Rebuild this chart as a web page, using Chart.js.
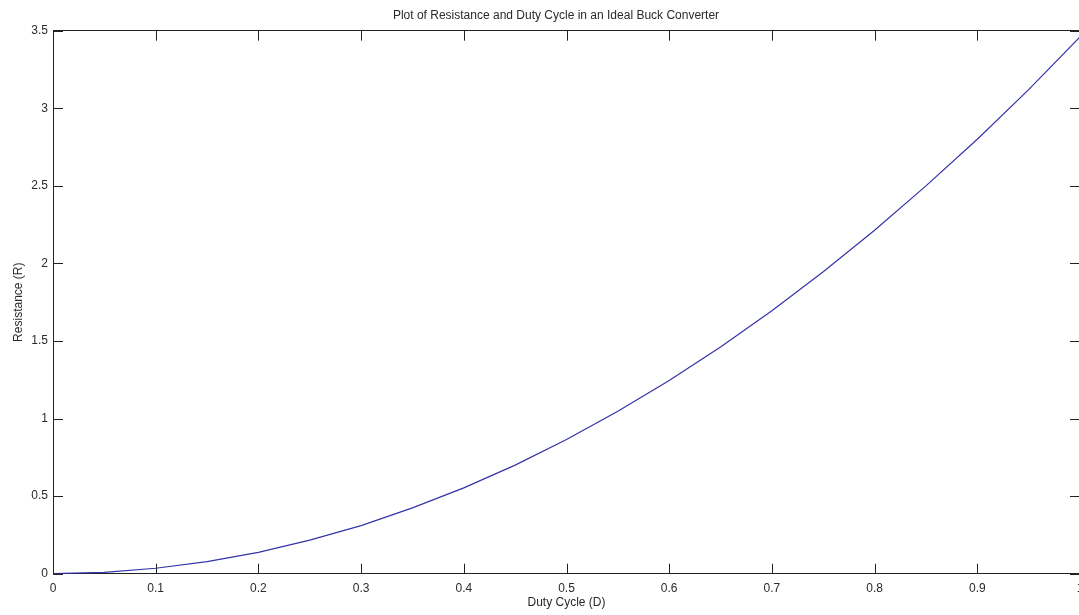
<!DOCTYPE html>
<html>
<head>
<meta charset="utf-8">
<script src="https://cdn.jsdelivr.net/npm/chart.js@4"></script>
<style>
  html, body { margin: 0; padding: 0; background: #fff; overflow: hidden; width: 1079px; height: 615px; }
  canvas { display: block; }
</style>
</head>
<body>
<canvas id="c" width="1112" height="615"></canvas>
<script>
// Data
const dutyCycle = [0, 0.05, 0.1, 0.15, 0.2, 0.25, 0.3, 0.35, 0.4, 0.45, 0.5,
                   0.55, 0.6, 0.65, 0.7, 0.75, 0.8, 0.85, 0.9, 0.95, 1.0];
const resistance = [0, 0.008, 0.035, 0.078, 0.138, 0.216, 0.31, 0.424, 0.553, 0.70, 0.865,
                    1.047, 1.245, 1.462, 1.695, 1.946, 2.214, 2.50, 2.80, 3.12, 3.46];
const xTicks = [0, 0.1, 0.2, 0.3, 0.4, 0.5, 0.6, 0.7, 0.8, 0.9, 1];
const yTicks = [0, 0.5, 1, 1.5, 2, 2.5, 3, 3.5];
const titleText = 'Plot of Resistance and Duty Cycle in an Ideal Buck Converter';
const xTitle = 'Duty Cycle (D)';
const yTitle = 'Resistance (R)';

const FONT = "'Liberation Sans', Arial, sans-serif";
const TXT = '#2a2a2a';
const AXIS = '#222';

const points = dutyCycle.map((d, i) => ({ x: d, y: resistance[i] }));

// Draw MATLAB-style inward tick marks using the chart's own scales
const inwardTicks = {
  id: 'inwardTicks',
  afterDraw(chart) {
    const { ctx, chartArea: a, scales } = chart;
    const L = 10;
    ctx.save();
    ctx.strokeStyle = AXIS;
    ctx.lineWidth = 1;
    ctx.beginPath();
    xTicks.forEach(v => {
      const px = Math.round(scales.x.getPixelForValue(v)) + 0.5;
      ctx.moveTo(px, a.bottom); ctx.lineTo(px, a.bottom - L);
      ctx.moveTo(px, a.top); ctx.lineTo(px, a.top + L);
    });
    yTicks.forEach(v => {
      const py = Math.round(scales.y.getPixelForValue(v)) + 0.5;
      ctx.moveTo(a.left, py); ctx.lineTo(a.left + L, py);
      ctx.moveTo(a.right, py); ctx.lineTo(a.right - L, py);
    });
    ctx.stroke();
    ctx.restore();
  }
};

new Chart(document.getElementById('c'), {
  type: 'line',
  data: {
    datasets: [{
      data: points,
      borderColor: '#3434a8',
      borderWidth: 1.2,
      pointRadius: 0,
      tension: 0,
      fill: false
    }]
  },
  options: {
    responsive: false,
    animation: false,
    layout: { padding: 0 },
    plugins: {
      legend: { display: false },
      tooltip: { enabled: false },
      title: {
        display: true,
        text: titleText,
        color: TXT,
        font: { family: FONT, size: 12, weight: 'normal', lineHeight: 1.2 },
        padding: { top: 8, bottom: 0 }
      }
    },
    scales: {
      x: {
        type: 'linear',
        position: 'bottom',
        min: 0, max: 1,
        afterBuildTicks: s => { s.ticks = xTicks.map(v => ({ value: v })); },
        afterFit: s => { s.height = 41.3; },
        grid: { display: false, drawTicks: false },
        border: { display: true, color: AXIS, width: 1 },
        ticks: {
          color: TXT, padding: 8, maxRotation: 0, autoSkip: false,
          font: { family: FONT, size: 12 },
          callback: v => String(v)
        },
        title: {
          display: true, text: xTitle, color: TXT,
          font: { family: FONT, size: 12, lineHeight: 1.2 },
          padding: { top: 0, bottom: 5 }
        }
      },
      x2: {
        type: 'linear',
        position: 'top',
        min: 0, max: 1,
        afterFit: s => { s.height = 8.3; },
        grid: { display: false, drawTicks: false },
        border: { display: true, color: AXIS, width: 1 },
        ticks: { display: false }
      },
      y: {
        type: 'linear',
        position: 'left',
        min: 0, max: 3.5,
        afterBuildTicks: s => { s.ticks = yTicks.map(v => ({ value: v })); },
        afterFit: s => { s.width = 53; },
        grid: { display: false, drawTicks: false },
        border: { display: true, color: AXIS, width: 1 },
        ticks: {
          color: TXT, padding: 5, autoSkip: false,
          font: { family: FONT, size: 12 },
          callback: v => String(v)
        },
        title: {
          display: true, text: yTitle, color: TXT,
          font: { family: FONT, size: 12, lineHeight: 1.2 },
          padding: { top: 11, bottom: 0 }
        }
      },
      y2: {
        type: 'linear',
        position: 'right',
        min: 0, max: 3.5,
        afterFit: s => { s.width = 32; },
        grid: { display: false, drawTicks: false },
        border: { display: true, color: AXIS, width: 1 },
        ticks: { display: false }
      }
    }
  },
  plugins: [inwardTicks]
});
</script>
</body>
</html>
